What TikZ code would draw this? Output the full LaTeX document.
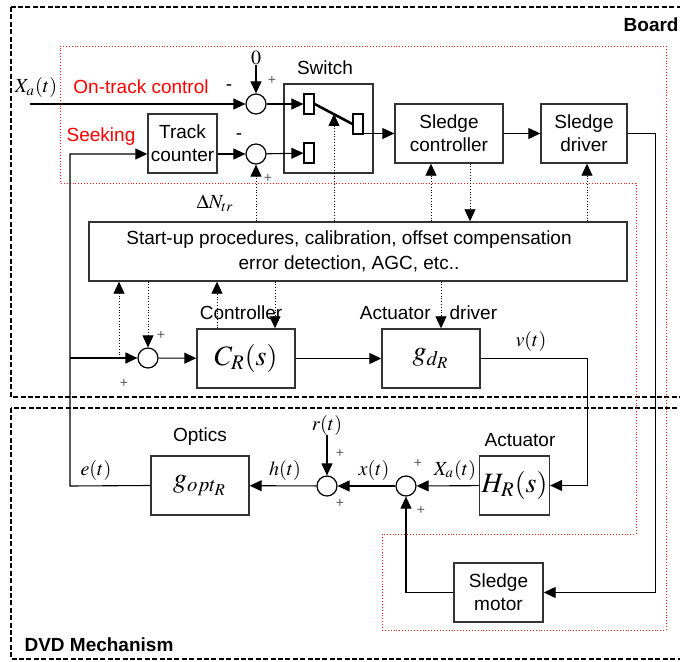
\documentclass[tikz,border=0pt]{standalone}
\usepackage{mathptmx}
\usepackage[no-math]{fontspec}
\setmainfont{Liberation Sans}
\usetikzlibrary{positioning,arrows.meta}
\definecolor{zonec}{RGB}{255,25,25}
\definecolor{signc}{RGB}{90,90,90}
\newcommand{\blkfont}{\fontsize{9.5}{11.5}\selectfont}
\newcommand{\bigmath}{\fontsize{14}{16}\selectfont}
\tikzset{
  blk/.style={draw=black!80, line width=0.7pt, align=center, inner sep=1pt, font=\blkfont, minimum height=29.5pt},
  sumj/.style={draw, circle, line width=0.6pt, minimum size=10pt, inner sep=0pt},
  cont/.style={draw, line width=0.6pt, minimum width=5pt, minimum height=10pt, inner sep=0pt},
  sig/.style={-{Triangle[length=6pt,width=5.5pt]}, line width=0.55pt},
  ctl/.style={sig, line width=0.4pt, densely dotted},
  grp/.style={line width=0.9pt, dash pattern=on 2.5pt off 1.2pt},
  zone/.style={draw=zonec, line width=0.45pt, densely dotted},
  lbl/.style={font=\blkfont, inner sep=0pt},
  redlbl/.style={lbl, text=red},
  mlbl/.style={font=\fontsize{10}{12}\selectfont, inner sep=0pt},
  sgn/.style={font=\fontsize{7}{8}\selectfont, text=signc, inner sep=0pt},
  grpname/.style={font=\fontsize{9.5}{11}\selectfont\bfseries, inner sep=0pt}
}

\begin{document}
\begin{tikzpicture}[x=0.5pt,y=-0.5pt]
  \clip (0,0) rectangle (680,662);
  % frames
  \draw[grp] (11,7) rectangle (700,397);
  \draw[grp] (11,408) rectangle (700,659);
  \draw[zone] (60,46) -- (666,46) -- (666,630) -- (382,630) -- (382,534) -- (636,534) -- (636,183) -- (60,183) -- cycle;
  \node[grpname, anchor=east] (brdname) at (679,25) {Board};
  \node[grpname] (dvdname) at (99,645) {DVD Mechanism};

  % board blocks
  \node[blk, minimum width=34.5pt] (track) at (182.5,143.5) {Track\\counter};
  \node[blk, minimum width=44.5pt, minimum height=44.5pt] (sw) at (328.5,128.5) {};
  \node[cont] (c1) at (309,104) {};
  \node[cont] (c2) at (309,153) {};
  \node[cont] (c3) at (358,124) {};
  \node[lbl] (swname) at (325,68) {Switch};
  \node[blk, minimum width=54pt] (sc) at (449,133.5) {Sledge\\controller};
  \node[blk, minimum width=43pt] (sd) at (584,133.5) {Sledge\\driver};
  \node[blk, minimum width=269pt, font=\fontsize{9.5}{12.5}\selectfont] (sup) at (358,251.5) {Start-up procedures, calibration, offset compensation\hspace*{9pt}\\error detection, AGC, etc..\hspace*{9pt}};
  \node[blk, minimum width=49pt, font=\bigmath] (cr) at (246,358.5) {$C_R(s)$};
  \node[blk, minimum width=49pt, font=\bigmath] (gd) at (431,358.5) {$g_{d_R}$};
  \node[lbl] (crname) at (241,313) {Controller};
  \node[lbl] (gdname) at (428.5,313) {Actuator\quad driver};

  % mechanism blocks
  \node[blk, minimum width=34.5pt, font=\bigmath] (hr) at (514.5,485.5) {$H_R(s)$};
  \node[blk, minimum width=49pt, font=\bigmath] (gopt) at (200,485.5) {$g_{opt_R}$};
  \node[blk, minimum width=44.5pt] (motor) at (498.5,592.5) {Sledge\\motor};
  \node[lbl] (hrname) at (520,440) {Actuator};
  \node[lbl] (goptname) at (200,437) {Optics};

  % summing junctions
  \node[sumj] (s1) at (256,104) {};
  \node[sumj] (s2) at (256,154) {};
  \node[sumj] (s5) at (148,358) {};
  \node[sumj] (s3) at (327,486) {};
  \node[sumj] (s4) at (406,486) {};

  % texts
  \node[mlbl] (xa) at (36,88) {$X_a(t)$};
  \node[redlbl] (ontrack) at (141,87) {On-track control};
  \node[redlbl] (seek) at (101,137) {Seeking};
  \node[mlbl] (zero) at (256,58) {$0$};
  \node[mlbl] (dn) at (215,203) {$\Delta N_{tr}$};
  \node[mlbl] (vt) at (531,342) {$v(t)$};
  \node[mlbl] (xat) at (455,470) {$X_a(t)$};
  \node[mlbl] (xt) at (374,470) {$x(t)$};
  \node[mlbl] (ht) at (285,470) {$h(t)$};
  \node[mlbl] (et) at (96,470) {$e(t)$};
  \node[mlbl] (rt) at (327,425) {$r(t)$};
  \node[lbl] at (229,88) {-};
  \node[sgn] at (272,80) {+};
  \node[lbl] at (239,137) {-};
  \node[sgn] at (268,178) {+};
  \node[sgn] at (161,335) {+};
  \node[sgn] at (124,383) {+};
  \node[sgn] at (340,453) {+};
  \node[sgn] at (340,503) {+};
  \node[sgn] at (418,463) {+};
  \node[sgn] at (421,510) {+};

  \coordinate (xin) at (30,104);
  \coordinate (efb) at (70,486);
  \coordinate (arm) at (334,114);
  \coordinate (ca) at (119,0);
  \coordinate (cb) at (217,0);
  \coordinate (cc) at (275,0);
  \coordinate (cd) at (441,0);
  \coordinate (ce) at (431,0);
  \coordinate (cf) at (470,0);
  \coordinate (cg) at (587,0);

  % signal paths
  \draw[sig] (xin) -- (s1);
  \draw[sig] (zero) -- (s1);
  \draw[sig] (s1) -- (c1);
  \draw[sig] (track.east |- s2) -- (s2);
  \draw[sig] (s2) -- (c2);
  \draw[line width=1.3pt] (c1.east) -- (c3.west);
  \draw[sig] (c3.east |- sc) -- (sc);
  \draw[sig] (sc) -- (sd);
  \draw[sig] (sd.east) -- ++(28,0) |- (motor.east);
  \draw[sig] (motor.west) -| (s4);
  \draw[sig] (gd.east) -- ++(107,0) |- (hr.east);
  \draw[sig] (hr) -- (s4);
  \draw[sig] (s4) -- (s3);
  \draw[sig] (rt) -- (s3);
  \draw[sig] (s3) -- (gopt);
  \draw[sig] (gopt.west) -- (efb) |- (track.west |- s2);
  \draw[sig] (efb |- s5) -- (s5);
  \draw[sig] (s5) -- (cr);
  \draw[sig] (cr) -- (gd);

  % supervisory links
  \draw[ctl] (ca |- s5) -- (ca |- sup.south);
  \draw[ctl] (sup.south -| s5) -- (s5);
  \draw[ctl] (cr.north -| cb) -- (cb |- sup.south);
  \draw[ctl] (cc |- sup.south) -- (cr.north -| cc);
  \draw[ctl] (cd |- sup.south) -- (gd.north -| cd);
  \draw[ctl] (sup.north -| s2) -- (s2);
  \draw[ctl] (sup.north -| arm) -- (arm);
  \draw[ctl] (sup.north -| ce) -- (sc.south -| ce);
  \draw[ctl] (sc.south -| cf) -- (sup.north -| cf);
  \draw[ctl] (sup.north -| cg) -- (sd.south -| cg);
\end{tikzpicture}
\end{document}
